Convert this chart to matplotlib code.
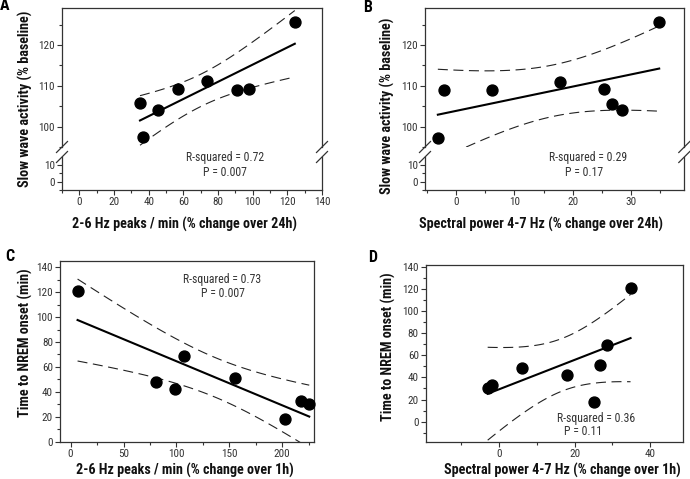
import numpy as np
import matplotlib.pyplot as plt
from matplotlib.lines import Line2D
from matplotlib.ticker import MultipleLocator
from matplotlib import font_manager

# values (8 animals)
peaks_24h = [35.0, 36.6, 45.5, 57.0, 73.6, 91.1, 97.9, 124.3]
swa_a = [105.7, 97.4, 104.1, 109.1, 111.1, 109.0, 109.2, 125.6]
power_24h = [-3.1, -2.0, 6.2, 17.9, 25.3, 26.7, 28.4, 34.8]
swa_b = [97.3, 109.0, 109.0, 111.0, 109.2, 105.6, 104.1, 125.6]
peaks_1h = [6.6, 81.1, 99.1, 107.2, 155.7, 202.2, 217.9, 225.5]
nrem_c = [121.3, 47.9, 42.0, 69.1, 51.1, 17.9, 32.9, 30.0]
power_1h = [-3.0, -1.9, 6.2, 17.9, 25.1, 26.8, 28.5, 34.8]
nrem_d = [30.1, 32.8, 48.2, 42.2, 18.1, 51.2, 69.0, 121.0]

stats = {'A': ('R-squared = 0.72', 'P = 0.007'),
         'B': ('R-squared = 0.29', 'P = 0.17'),
         'C': ('R-squared = 0.73', 'P = 0.007'),
         'D': ('R-squared = 0.36', 'P = 0.11')}

# pick an Arial-Narrow-like family that is installed
fonts = font_manager.fontManager.ttflist
candidates = ['Arial Narrow', 'Liberation Sans Narrow', 'Roboto Condensed', 'PT Sans Narrow',
              'Open Sans Condensed', 'Fira Sans Condensed', 'IBM Plex Sans Condensed',
              'Barlow Semi Condensed', 'Asap Condensed', 'Archivo Narrow']


def pick(weight):
    for c in candidates:
        for f in fonts:
            if f.name == c and f.style == 'normal' and f.weight == weight:
                return c
    return 'Liberation Sans'


REG = pick(400)
BOLD = pick(700)

W, H = 690, 479
fig = plt.figure(figsize=(W / 100, H / 100), dpi=100)


def px_axes(x0, y0, x1, y1):
    return fig.add_axes([x0 / W, 1 - y1 / H, (x1 - x0) / W, (y1 - y0) / H])


def px_text(x, y, s, **kw):
    fig.text(x / W, 1 - y / H, s, **kw)


def style(ax, xmaj, xmin, ymaj, ymin):
    ax.xaxis.set_major_locator(MultipleLocator(xmaj))
    ax.xaxis.set_minor_locator(MultipleLocator(xmin))
    ax.yaxis.set_major_locator(MultipleLocator(ymaj))
    ax.yaxis.set_minor_locator(MultipleLocator(ymin))
    ax.tick_params(which='both', direction='out', color='#333333', width=0.8,
                   labelsize=8, labelcolor='#333333', pad=1.5)
    ax.tick_params(which='major', length=3.5)
    ax.tick_params(which='minor', length=2)
    for t in ax.get_xticklabels() + ax.get_yticklabels():
        t.set_family([REG, 'DejaVu Sans'])
    for sp in ax.spines.values():
        sp.set_color('#333333')
        sp.set_linewidth(0.9)


def fit_plot(ax, x, y):
    x = np.asarray(x)
    y = np.asarray(y)
    n = len(x)
    b, a = np.polyfit(x, y, 1)
    xs = np.linspace(x.min(), x.max(), 100)
    yhat = a + b * xs
    resid = y - (a + b * x)
    s = np.sqrt(np.sum(resid ** 2) / (n - 2))
    sxx = np.sum((x - x.mean()) ** 2)
    half = 2.447 * s * np.sqrt(1 / n + (xs - x.mean()) ** 2 / sxx)
    ax.plot(xs, yhat, color='black', lw=1.5)
    ax.plot(xs, yhat + half, color='#222222', lw=0.8, linestyle=(0, (9, 5)))
    ax.plot(xs, yhat - half, color='#222222', lw=0.8, linestyle=(0, (9, 5)))
    ax.scatter(x, y, s=62, color='black', zorder=3, clip_on=False)


def slash(x, y):
    fig.add_artist(Line2D([(x - 5.5) / W, (x + 5.5) / W],
                          [1 - (y + 5.5) / H, 1 - (y - 5.5) / H],
                          color='#333333', lw=0.9))


def broken_panel(x0, x1, xlim, xdata, ydata, xmaj, xmin):
    top = px_axes(x0, 8.3, x1, 147)
    bot = px_axes(x0, 157, x1, 190)
    top.set_xlim(xlim)
    bot.set_xlim(xlim)
    top.set_ylim(95, 129)
    bot.set_ylim(-5, 14.5)
    style(top, xmaj, xmin, 10, 5)
    style(bot, xmaj, xmin, 10, 5)
    top.spines['bottom'].set_visible(False)
    bot.spines['top'].set_visible(False)
    top.tick_params(axis='x', which='both', bottom=False, labelbottom=False)
    fit_plot(top, xdata, ydata)
    for xx in (x0, x1):
        slash(xx, 147)
        slash(xx, 157)
    return top, bot


# A
broken_panel(62, 322, (-10, 140), peaks_24h, swa_a, 20, 10)
# B
broken_panel(425, 684.3, (-5.3, 39.1), power_24h, swa_b, 10, 5)

# C
axc = px_axes(60, 260.7, 314, 442.3)
axc.set_xlim(-10, 230)
axc.set_ylim(-0.5, 145.3)
style(axc, 50, 25, 20, 10)
fit_plot(axc, peaks_1h, nrem_c)

# D
axd = px_axes(425.7, 265, 682.7, 442.3)
axd.set_xlim(-19.4, 48.6)
axd.set_ylim(-18.6, 141.5)
style(axd, 20, 10, 20, 10)
fit_plot(axd, power_1h, nrem_d)

# stats text
st = dict(fontsize=8.5, color='#333333', ha='center', va='center', family=[REG, 'DejaVu Sans'])
px_text(225.5, 158, stats['A'][0], **st)
px_text(225, 173, stats['A'][1], **st)
px_text(588, 158, stats['B'][0], **st)
px_text(584, 173, stats['B'][1], **st)
px_text(222.5, 279.3, stats['C'][0], **st)
px_text(222.7, 293.3, stats['C'][1], **st)
px_text(595.8, 418.3, stats['D'][0], **st)
px_text(583.5, 431.7, stats['D'][1], **st)

# axis labels
lab = dict(fontsize=10.2, fontweight='bold', color='#111111', ha='center', va='center',
           family=[BOLD, 'DejaVu Sans'])
px_text(184.5, 224, '2-6 Hz peaks / min (% change over 24h)', **lab)
px_text(541, 224, 'Spectral power 4-7 Hz (% change over 24h)', **lab)
px_text(185, 470, '2-6 Hz peaks / min (% change over 1h)', **lab)
px_text(562, 470, 'Spectral power 4-7 Hz (% change over 1h)', **lab)
px_text(25, 99, 'Slow wave activity (% baseline)', rotation=90, **lab)
px_text(387.5, 106, 'Slow wave activity (% baseline)', rotation=90, **lab)
px_text(25, 342.5, 'Time to NREM onset (min)', rotation=90, **lab)
px_text(388.5, 347, 'Time to NREM onset (min)', rotation=90, **lab)

# panel letters
let = dict(fontsize=11.5, fontweight='bold', color='black', ha='center', va='center',
           family=[BOLD, 'DejaVu Sans'])
px_text(5, 6, 'A', **let)
px_text(368, 7, 'B', **let)
px_text(10, 256.5, 'C', **let)
px_text(373, 257.5, 'D', **let)

fig.savefig('out.png', dpi=100)
